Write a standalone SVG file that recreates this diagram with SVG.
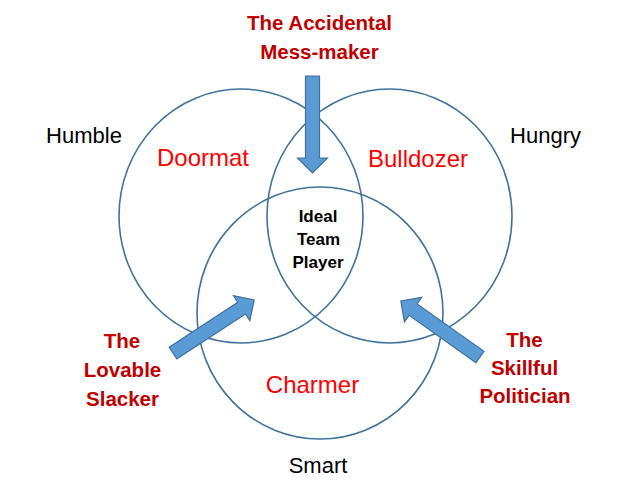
<svg xmlns="http://www.w3.org/2000/svg" xmlns:xlink="http://www.w3.org/1999/xlink" width="630" height="498" viewBox="0 0 630 498">
<style>
.circ{fill:none;stroke:#41719C;stroke-width:1.6}
.arr{fill:#5B9BD5;stroke:#41719C;stroke-width:1.2}
.t{font-family:"Liberation Sans",Arial,sans-serif;text-anchor:middle}
.axis{font-size:22px;fill:#000}
.zone{font-size:24px;fill:#FF0000}
.type{font-size:20.5px;font-weight:bold;fill:#C00000}
.ideal{font-size:17px;font-weight:bold;fill:#000}
</style>
<defs>
<path id="arrow" d="M0,-7 L82,-7 L82,-15 L97,0 L82,15 L82,7 L0,7 Z"/>
</defs>
<rect width="630" height="498" fill="#fff"/>
<g id="humble">
<ellipse class="circ" cx="241" cy="216" rx="122" ry="127"/>
<text class="t axis" x="84" y="143">Humble</text>
<text class="t zone" x="203" y="166">Doormat</text>
</g>
<g id="hungry">
<ellipse class="circ" cx="389.5" cy="216" rx="122.5" ry="127"/>
<text class="t axis" x="545.5" y="143">Hungry</text>
<text class="t zone" x="418" y="167">Bulldozer</text>
</g>
<g id="smart">
<ellipse class="circ" cx="320" cy="313" rx="123" ry="126"/>
<text class="t axis" x="318" y="473">Smart</text>
<text class="t zone" x="312.5" y="393">Charmer</text>
</g>
<g id="ideal">
<text class="t ideal" x="318" y="222">Ideal</text>
<text class="t ideal" x="318.5" y="245">Team</text>
<text class="t ideal" x="318" y="268">Player</text>
</g>
<g id="mess-maker">
<text class="t type" x="319.5" y="30">The Accidental</text>
<text class="t type" x="319.5" y="59">Mess-maker</text>
</g>
<g id="slacker">
<text class="t type" x="122" y="348">The</text>
<text class="t type" x="122.5" y="377">Lovable</text>
<text class="t type" x="122.5" y="406">Slacker</text>
</g>
<g id="politician">
<text class="t type" x="524.5" y="347">The</text>
<text class="t type" x="524.5" y="375">Skillful</text>
<text class="t type" x="525" y="403">Politician</text>
</g>
<g id="connectors">
<use xlink:href="#arrow" class="arr" transform="translate(312.5,76) rotate(90)"/>
<use xlink:href="#arrow" class="arr" transform="translate(173,353) rotate(-33.2)"/>
<use xlink:href="#arrow" class="arr" transform="translate(480,357) rotate(-144.7)"/>
</g>
</svg>
